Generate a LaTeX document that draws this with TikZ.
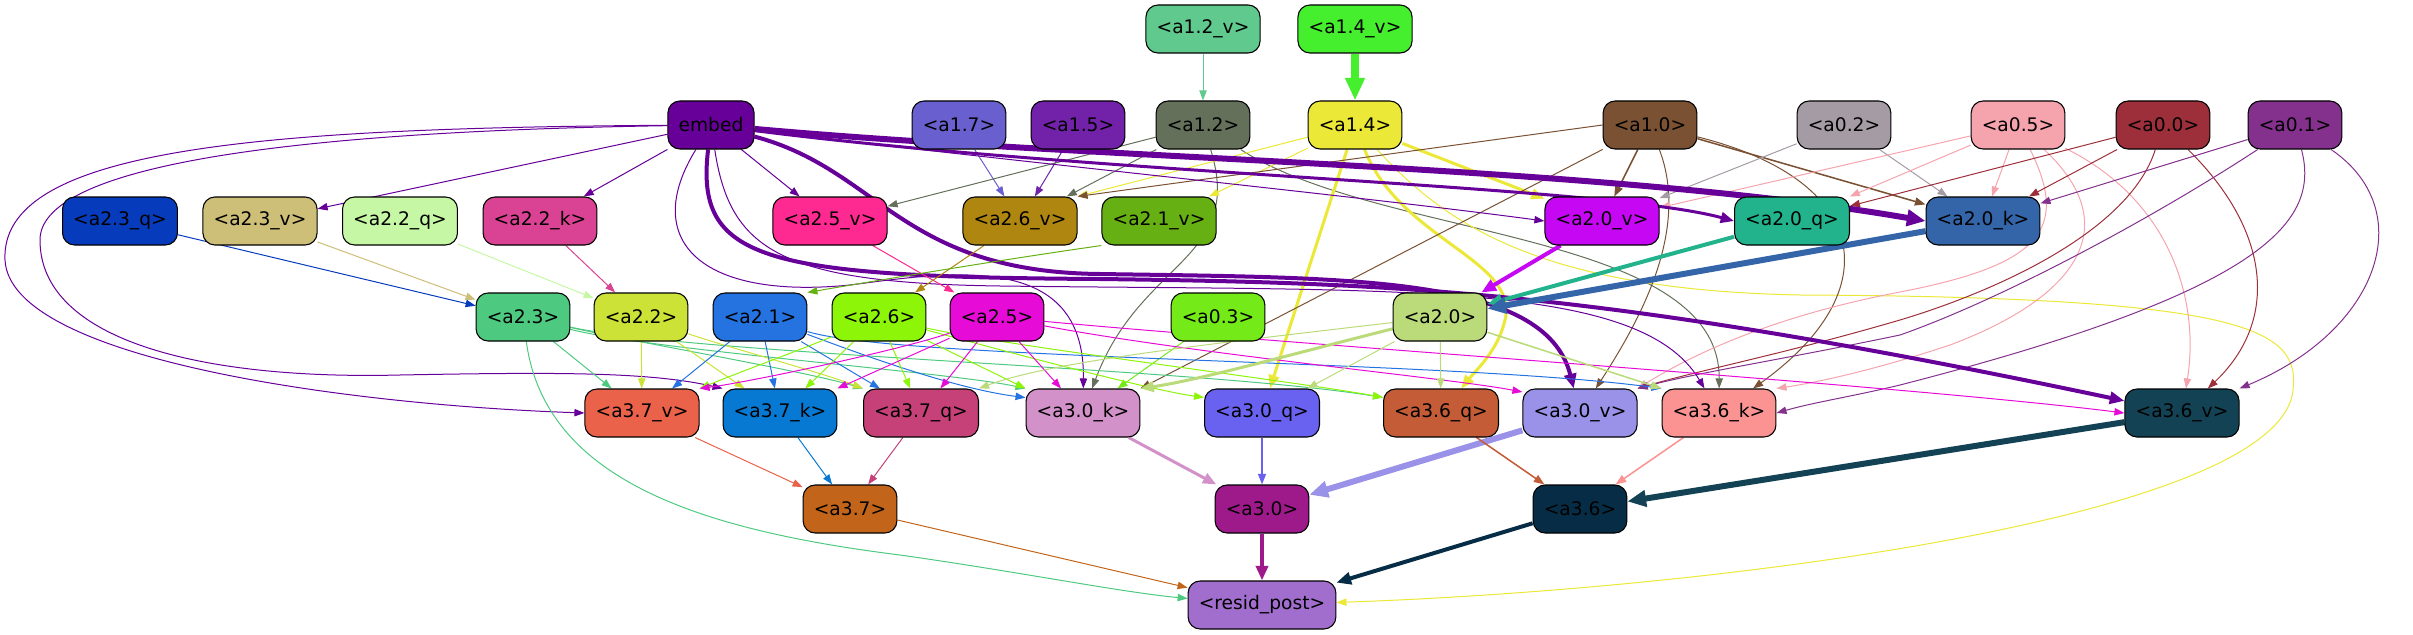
\documentclass[tikz,border=0pt]{standalone}
\usepackage{fontspec}
\setmainfont{DejaVu Sans}
\usetikzlibrary{arrows.meta}
\pgfdeclarelayer{bg}
\pgfsetlayers{bg,main}
\definecolor{cEmbed}{RGB}{102,0,153}
\definecolor{cA12v}{RGB}{96,201,141}
\definecolor{cA14v}{RGB}{69,239,46}
\definecolor{cA17}{RGB}{106,95,206}
\definecolor{cA15}{RGB}{113,34,168}
\definecolor{cA12}{RGB}{100,112,90}
\definecolor{cA14}{RGB}{235,232,55}
\definecolor{cA10}{RGB}{122,82,51}
\definecolor{cA02}{RGB}{165,155,164}
\definecolor{cA05}{RGB}{245,164,174}
\definecolor{cA00}{RGB}{157,47,58}
\definecolor{cA01}{RGB}{131,49,141}
\definecolor{cA23q}{RGB}{6,60,187}
\definecolor{cA23v}{RGB}{205,190,120}
\definecolor{cA22q}{RGB}{198,247,165}
\definecolor{cA22k}{RGB}{218,66,147}
\definecolor{cA25v}{RGB}{254,41,145}
\definecolor{cA26v}{RGB}{175,134,16}
\definecolor{cA21v}{RGB}{102,176,20}
\definecolor{cA20v}{RGB}{197,7,244}
\definecolor{cA20q}{RGB}{34,178,140}
\definecolor{cA20k}{RGB}{51,101,168}
\definecolor{cA23}{RGB}{78,202,128}
\definecolor{cA22}{RGB}{204,226,54}
\definecolor{cA21}{RGB}{36,115,224}
\definecolor{cA26}{RGB}{140,245,8}
\definecolor{cA25}{RGB}{230,11,214}
\definecolor{cA03}{RGB}{116,235,24}
\definecolor{cA20}{RGB}{187,218,122}
\definecolor{cA37v}{RGB}{234,98,73}
\definecolor{cA37k}{RGB}{7,121,210}
\definecolor{cA37q}{RGB}{198,65,120}
\definecolor{cA30k}{RGB}{210,145,200}
\definecolor{cA30q}{RGB}{105,97,239}
\definecolor{cA36q}{RGB}{195,92,55}
\definecolor{cA30v}{RGB}{154,146,232}
\definecolor{cA36k}{RGB}{252,147,147}
\definecolor{cA36v}{RGB}{19,66,84}
\definecolor{cA37}{RGB}{194,101,26}
\definecolor{cA30}{RGB}{158,26,138}
\definecolor{cA36}{RGB}{6,45,69}
\definecolor{cResid}{RGB}{161,110,206}
\begin{document}
\begin{tikzpicture}[x=0.75pt,y=-0.75pt,
  box/.style={draw=black, line width=0.8pt, rounded corners=9pt, minimum height=36pt,
    inner xsep=8pt, inner ysep=0pt, font=\fontsize{14}{16}\selectfont, text=black},
  e1/.style={line width=0.75pt, -{Triangle[length=7.5pt,width=5.5pt]}},
  e2/.style={line width=1.15pt, -{Triangle[length=8pt,width=6pt]}},
  e3/.style={line width=2.25pt, -{Triangle[length=10pt,width=8pt]}},
  e4/.style={line width=3pt, -{Triangle[length=11pt,width=9pt]}},
  e5/.style={line width=4.5pt, -{Triangle[length=14pt,width=12pt]}},
  e6/.style={line width=6pt, -{Triangle[length=17pt,width=14pt]}}]
\useasboundingbox (0,0) rectangle (2413,635);
% row 1
\node[box,fill=cA12v] (a12v) at (1203,29) {<a1.2\_v>};
\node[box,fill=cA14v] (a14v) at (1355,29) {<a1.4\_v>};
% row 2
\node[box,fill=cEmbed] (embed) at (711,125) {embed};
\node[box,fill=cA17] (a17) at (959,125) {<a1.7>};
\node[box,fill=cA15] (a15) at (1078,125) {<a1.5>};
\node[box,fill=cA12] (a12) at (1203,125) {<a1.2>};
\node[box,fill=cA14] (a14) at (1355,125) {<a1.4>};
\node[box,fill=cA10] (a10) at (1650,125) {<a1.0>};
\node[box,fill=cA02] (a02) at (1844,125) {<a0.2>};
\node[box,fill=cA05] (a05) at (2018,125) {<a0.5>};
\node[box,fill=cA00] (a00) at (2163,125) {<a0.0>};
\node[box,fill=cA01] (a01) at (2295,125) {<a0.1>};
% row 3
\node[box,fill=cA23q] (a23q) at (120,221) {<a2.3\_q>};
\node[box,fill=cA23v] (a23v) at (260,221) {<a2.3\_v>};
\node[box,fill=cA22q] (a22q) at (400,221) {<a2.2\_q>};
\node[box,fill=cA22k] (a22k) at (540,221) {<a2.2\_k>};
\node[box,fill=cA25v] (a25v) at (830,221) {<a2.5\_v>};
\node[box,fill=cA26v] (a26v) at (1020,221) {<a2.6\_v>};
\node[box,fill=cA21v] (a21v) at (1159,221) {<a2.1\_v>};
\node[box,fill=cA20v] (a20v) at (1602,221) {<a2.0\_v>};
\node[box,fill=cA20q] (a20q) at (1792,221) {<a2.0\_q>};
\node[box,fill=cA20k] (a20k) at (1983,221) {<a2.0\_k>};
% row 4
\node[box,fill=cA23] (a23) at (523,317) {<a2.3>};
\node[box,fill=cA22] (a22) at (641,317) {<a2.2>};
\node[box,fill=cA21] (a21) at (760,317) {<a2.1>};
\node[box,fill=cA26] (a26) at (879,317) {<a2.6>};
\node[box,fill=cA25] (a25) at (997,317) {<a2.5>};
\node[box,fill=cA03] (a03) at (1218,317) {<a0.3>};
\node[box,fill=cA20] (a20) at (1440,317) {<a2.0>};
% row 5
\node[box,fill=cA37v] (a37v) at (642,413) {<a3.7\_v>};
\node[box,fill=cA37k] (a37k) at (780,413) {<a3.7\_k>};
\node[box,fill=cA37q] (a37q) at (921,413) {<a3.7\_q>};
\node[box,fill=cA30k] (a30k) at (1083,413) {<a3.0\_k>};
\node[box,fill=cA30q] (a30q) at (1262,413) {<a3.0\_q>};
\node[box,fill=cA36q] (a36q) at (1441,413) {<a3.6\_q>};
\node[box,fill=cA30v] (a30v) at (1580,413) {<a3.0\_v>};
\node[box,fill=cA36k] (a36k) at (1719,413) {<a3.6\_k>};
\node[box,fill=cA36v] (a36v) at (2182,413) {<a3.6\_v>};
% row 6
\node[box,fill=cA37] (a37) at (850,509) {<a3.7>};
\node[box,fill=cA30] (a30) at (1262,509) {<a3.0>};
\node[box,fill=cA36] (a36) at (1580,509) {<a3.6>};
% row 7
\node[box,fill=cResid] (resid) at (1262,605) {<resid\_post>};

\begin{pgfonlayer}{bg}
% row 1 -> row 2
\draw[e1,draw=cA12v] (a12v) -- (a12);
\draw[e6,draw=cA14v] (a14v) -- (a14);
% a1.x
\draw[e1,draw=cA17] (a17) -- (a26v);
\draw[e1,draw=cA15] (a15) -- (a26v);
\draw[e1,draw=cA12] (a12) -- (a25v);
\draw[e1,draw=cA12] (a12) -- (a26v);
\draw[e1,draw=cA12] (a12) .. controls (1245,260) and (1140,260) .. (a30k);
\draw[e1,draw=cA12] (a12) .. controls (1380,240) and (1720,230) .. (a36k);
\draw[e1,draw=cA14] (a14) -- (a26v.north east);
\draw[e1,draw=cA14] (a14) -- (a21v);
\draw[e3,draw=cA14] (a14) -- (a20v);
\draw[e3,draw=cA14] (a14) -- (a30q);
\draw[e3,draw=cA14] (a14) .. controls (1400,240) and (1520,260) .. (1505,320) .. controls (1498,350) and (1478,368) .. (a36q);
\draw[e1,draw=cA14] (a14) .. controls (1450,230) and (1550,290) .. (1800,295) .. controls (2250,297) and (2300,330) .. (2293,390) .. controls (2280,520) and (1700,590) .. (resid);
\draw[e1,draw=cA10] (a10.west) -- (a26v.north east);
\draw[e2,draw=cA10] (a10) -- (a20v);
\draw[e2,draw=cA10] (a10) -- (a20k);
\draw[e1,draw=cA10] (a10) .. controls (1870,180) and (1890,290) .. (a36k);
\draw[e1,draw=cA10] (a10) .. controls (1690,230) and (1640,320) .. (a30v);
\draw[e1,draw=cA10] (a10) -- (a30k.north east);
% a0.x
\draw[e1,draw=cA02] (a02) -- (a20v);
\draw[e1,draw=cA02] (a02) -- (a20k);
\draw[e1,draw=cA05] (a05) -- (a20v);
\draw[e1,draw=cA05] (a05) -- (a20q);
\draw[e1,draw=cA05] (a05) -- (a20k);
\draw[e1,draw=cA05] (a05) .. controls (2070,230) and (2040,265) .. (1900,292) .. controls (1780,315) and (1700,350) .. (a30v.north east);
\draw[e1,draw=cA05] (a05) .. controls (2130,230) and (2070,300) .. (1950,345) .. controls (1860,375) and (1800,385) .. (a36k.north east);
\draw[e1,draw=cA05] (a05) .. controls (2170,200) and (2200,300) .. (a36v);
\draw[e1,draw=cA00] (a00) -- (a20q);
\draw[e1,draw=cA00] (a00) -- (a20k);
\draw[e1,draw=cA00] (a00) .. controls (2130,230) and (2000,290) .. (1900,320) .. controls (1780,355) and (1700,370) .. (a30v.north east);
\draw[e1,draw=cA00] (a00) .. controls (2270,230) and (2280,320) .. (a36v);
\draw[e1,draw=cA01] (a01) -- (a20k);
\draw[e1,draw=cA01] (a01) .. controls (2150,220) and (2000,300) .. (1900,335) .. controls (1780,360) and (1700,372) .. (a30v.north east);
\draw[e1,draw=cA01] (a01) .. controls (2320,220) and (2270,290) .. (1900,385) .. controls (1850,397) and (1815,402) .. (a36k.east);
\draw[e1,draw=cA01] (a01) .. controls (2420,210) and (2380,330) .. (a36v.north east);
% embed
\draw[e1,draw=cEmbed] (embed) -- (a23v);
\draw[e1,draw=cEmbed] (embed) -- (a22k);
\draw[e1,draw=cEmbed] (embed) -- (a25v);
\draw[e5,draw=cEmbed] (embed) .. controls (1100,160) and (1600,165) .. (a20k.west);
\draw[e3,draw=cEmbed] (embed) .. controls (1100,175) and (1600,185) .. (a20q.west);
\draw[e1,draw=cEmbed] (embed) .. controls (1000,160) and (1350,195) .. (a20v.west);
\draw[e4,draw=cEmbed] (embed) .. controls (880,170) and (900,272) .. (1100,274) .. controls (1350,278) and (1545,275) .. (a30v);
\draw[e4,draw=cEmbed] (embed) .. controls (695,260) and (760,277) .. (1100,279) .. controls (1400,283) and (1600,290) .. (a36v);
\draw[e1,draw=cEmbed] (embed) .. controls (640,240) and (700,300) .. (850,285) .. controls (950,272) and (1085,250) .. (a30k);
\draw[e1,draw=cEmbed] (embed) .. controls (730,250) and (780,283) .. (1000,286) .. controls (1400,291) and (1640,280) .. (a36k);
\draw[e1,draw=cEmbed] (embed) .. controls (250,128) and (0,150) .. (5,260) .. controls (10,360) and (350,405) .. (a37v.west);
\draw[e1,draw=cEmbed] (embed) .. controls (260,132) and (40,170) .. (40,240) .. controls (40,340) and (200,380) .. (400,375) .. controls (560,372) and (650,372) .. (a37k.north west);
% row 3 -> row 4
\draw[e1,draw=cA23q] (a23q) -- (a23);
\draw[e1,draw=cA23v] (a23v) -- (a23);
\draw[e1,draw=cA22q] (a22q) -- (a22);
\draw[e1,draw=cA22k] (a22k) -- (a22);
\draw[e1,draw=cA25v] (a25v) -- (a25);
\draw[e1,draw=cA26v] (a26v) -- (a26);
\draw[e1,draw=cA21v] (a21v.south west) .. controls (1000,260) and (880,280) .. (a21.north east);
\draw[e4,draw=cA20v] (a20v) -- (a20);
\draw[e4,draw=cA20q] (a20q) -- (a20);
\draw[e5,draw=cA20k] (a20k) -- (a20);
\draw[e1,draw=cA03] (a03) -- (a30k);
% row 4 -> row 5
\draw[e1,draw=cA23] (a23) -- (a37v);
\draw[e1,draw=cA23] (a23) .. controls (650,345) and (800,370) .. (a37q.north west);
\draw[e1,draw=cA23] (a23) .. controls (650,350) and (950,372) .. (a30k.north west);
\draw[e1,draw=cA23] (a23) .. controls (700,355) and (1200,368) .. (a36q.165);
\draw[e1,draw=cA23] (a23) .. controls (545,480) and (700,530) .. (900,555) .. controls (1020,572) and (1120,592) .. (resid.175);
\draw[e1,draw=cA22] (a22) -- (a37v);
\draw[e1,draw=cA22] (a22) -- (a37k);
\draw[e1,draw=cA22] (a22) .. controls (720,345) and (820,372) .. (a37q.north west);
\draw[e1,draw=cA21] (a21) -- (a37v);
\draw[e1,draw=cA21] (a21) -- (a37k);
\draw[e1,draw=cA21] (a21) -- (a37q);
\draw[e1,draw=cA21] (a21) .. controls (850,350) and (950,388) .. (a30k.165);
\draw[e1,draw=cA21] (a21) .. controls (900,360) and (1450,360) .. (a36k.north west);
\draw[e1,draw=cA26] (a26) .. controls (800,350) and (740,372) .. (a37v.north east);
\draw[e1,draw=cA26] (a26) -- (a37k);
\draw[e1,draw=cA26] (a26) -- (a37q);
\draw[e1,draw=cA26] (a26) -- (a30k.north west);
\draw[e1,draw=cA26] (a26) .. controls (1000,350) and (1150,390) .. (a30q.165);
\draw[e1,draw=cA26] (a26) .. controls (1000,345) and (1300,382) .. (a36q.165);
\draw[e1,draw=cA25] (a25) .. controls (900,350) and (750,382) .. (a37v.north east);
\draw[e1,draw=cA25] (a25) -- (a37k.north east);
\draw[e1,draw=cA25] (a25) -- (a37q);
\draw[e1,draw=cA25] (a25) -- (a30k);
\draw[e1,draw=cA25] (a25) .. controls (1200,355) and (1450,378) .. (a30v.160);
\draw[e1,draw=cA25] (a25) .. controls (1300,345) and (1900,385) .. (a36v.west);
\draw[e3,draw=cA20] (a20) .. controls (1300,352) and (1200,380) .. (a30k.north east);
\draw[e1,draw=cA20] (a20) .. controls (1200,345) and (1050,362) .. (a37q.north east);
\draw[e1,draw=cA20] (a20) -- (a30q);
\draw[e1,draw=cA20] (a20) -- (a36q);
\draw[e2,draw=cA20] (a20) -- (a36k.north west);
% row 5 -> row 6
\draw[e1,draw=cA37v] (a37v) -- (a37);
\draw[e1,draw=cA37k] (a37k) -- (a37);
\draw[e1,draw=cA37q] (a37q) -- (a37);
\draw[e3,draw=cA30k] (a30k) -- (a30);
\draw[e2,draw=cA30q] (a30q) -- (a30);
\draw[e5,draw=cA30v] (a30v) -- (a30);
\draw[e2,draw=cA36q] (a36q) -- (a36);
\draw[e2,draw=cA36k] (a36k) -- (a36);
\draw[e5,draw=cA36v] (a36v) -- (a36);
% row 6 -> row 7
\draw[e1,draw=cA37] (a37) -- (resid);
\draw[e4,draw=cA30] (a30) -- (resid);
\draw[e4,draw=cA36] (a36) -- (resid);
\end{pgfonlayer}
\end{tikzpicture}
\end{document}
